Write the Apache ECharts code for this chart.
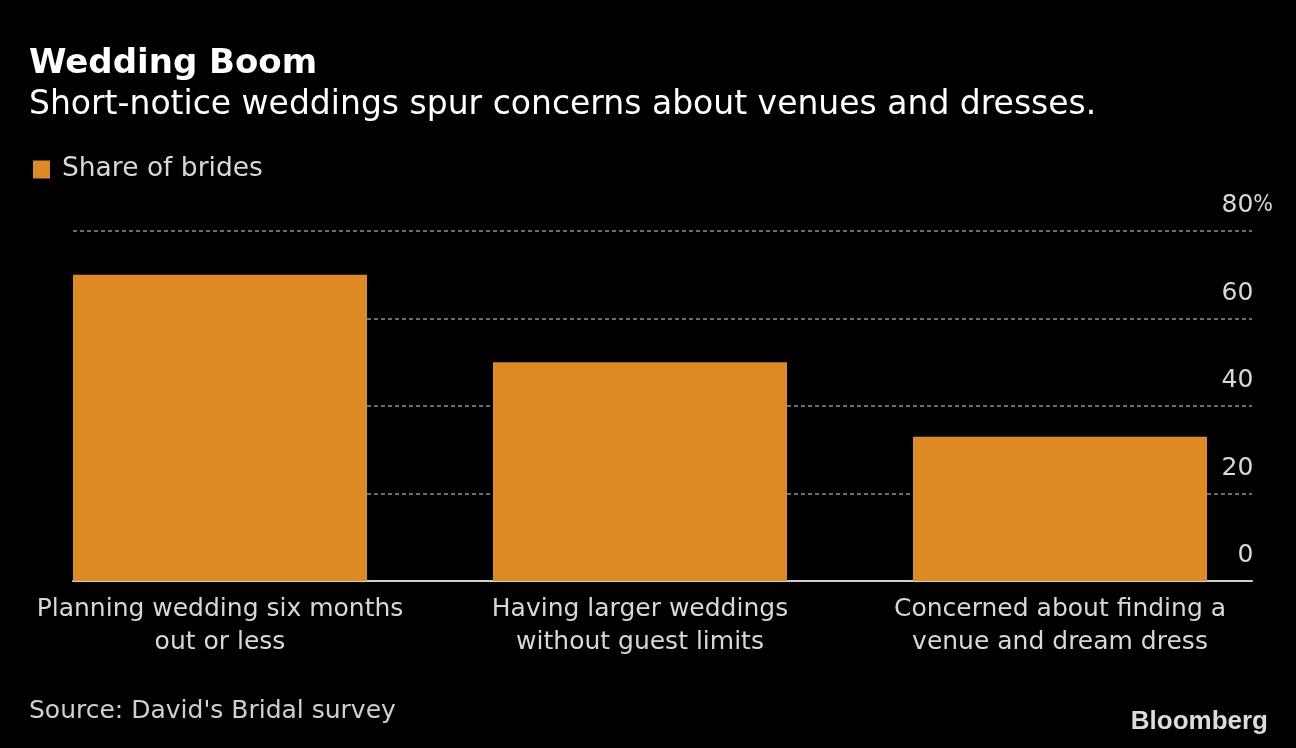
<!DOCTYPE html>
<html>
<head>
<meta charset="utf-8">
<script src="https://cdn.jsdelivr.net/npm/echarts@6/dist/echarts.min.js"></script>
<style>
html,body{margin:0;padding:0;background:#000;}
#chart{width:1296px;height:748px;}
</style>
</head>
<body>
<div id="chart"></div>
<script>
const categories = [
  "Planning wedding six months\nout or less",
  "Having larger weddings\nwithout guest limits",
  "Concerned about finding a\nvenue and dream dress"
];
const shareOfBrides = [70, 50, 33];
const yTicks = [0, 20, 40, 60, 80];

const FONT = "DejaVu Sans";
const chart = echarts.init(document.getElementById('chart'));
chart.setOption({
  backgroundColor: '#000',
  animation: false,
  graphic: [
    { type: 'text', left: 29, top: 47, style: { text: 'Wedding Boom', fill: '#fff', font: 'bold 34px "DejaVu Sans"' } },
    { type: 'text', left: 29, top: 89, style: { text: 'Short-notice weddings spur concerns about venues and dresses.', fill: '#fff', font: '33px "DejaVu Sans"' } },
    { type: 'text', left: 29, top: 699, style: { text: "Source: David's Bridal survey", fill: '#d0d0d0', font: '25px "DejaVu Sans"' } },
    { type: 'text', right: 28, top: 709, style: { text: 'Bloomberg', fill: '#dcdcdc', font: 'bold 26px "Liberation Sans"' } }
  ],
  legend: {
    left: 33, top: 156, padding: 0,
    icon: 'rect', itemWidth: 17, itemHeight: 18,
    textStyle: { color: '#d8d8d8', fontFamily: FONT, fontSize: 26.5, padding: [0, 0, 0, 7] },
    data: ['Share of brides']
  },
  grid: [
    { left: 10, right: 26, top: 231, bottom: 167 },
    { left: 73, right: 44, top: 231, bottom: 167 }
  ],
  xAxis: [
    {
      type: 'category', gridIndex: 0, data: categories,
      axisLine: { show: false }, axisTick: { show: false },
      axisLabel: { color: '#d8d8d8', fontFamily: FONT, fontSize: 25, lineHeight: 33, margin: 12, interval: 0 }
    },
    {
      type: 'value', gridIndex: 1, min: 0, max: 1,
      axisLine: { show: true, lineStyle: { color: '#cfcfcf', width: 2 } },
      axisTick: { show: false }, axisLabel: { show: false }, splitLine: { show: false }
    }
  ],
  yAxis: [
    { type: 'value', gridIndex: 0, min: 0, max: 80, show: false },
    {
      type: 'value', gridIndex: 1, min: 0, max: 80, interval: 20, position: 'right',
      axisLine: { show: false }, axisTick: { show: false },
      splitLine: { show: true, lineStyle: { color: '#909090', type: [4, 3], width: 1.5 } },
      axisLabel: {
        inside: true, margin: -21, verticalAlign: 'bottom', padding: [0, 0, 13, 0],
        formatter: function (v) { return '{v|' + v + '}' + (v === 80 ? '{p|%}' : '{h|%}'); },
        rich: {
          v: { color: '#d8d8d8', fontFamily: FONT, fontSize: 25 },
          p: { color: '#d8d8d8', fontFamily: "DejaVu Sans Condensed", fontSize: 23 },
          h: { color: 'rgba(0,0,0,0)', fontFamily: "DejaVu Sans Condensed", fontSize: 23 }
        }
      }
    }
  ],
  series: [
    {
      name: 'Share of brides', type: 'bar', xAxisIndex: 0, yAxisIndex: 0,
      data: shareOfBrides, barWidth: 294, itemStyle: { color: '#dd8a24' }, z: 3
    }
  ]
});
</script>
</body>
</html>
